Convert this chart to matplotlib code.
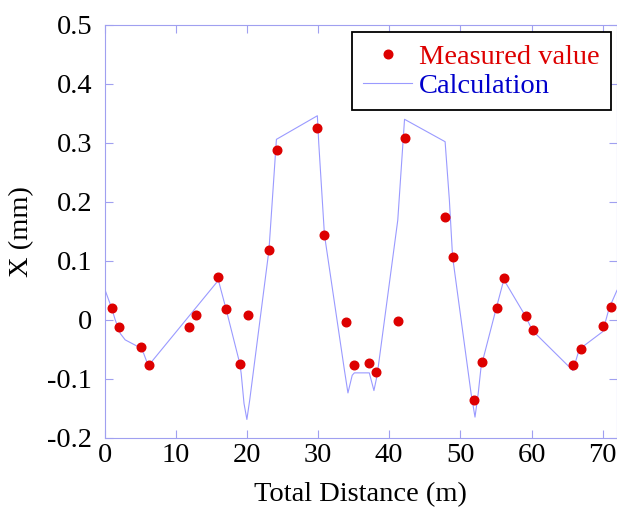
import numpy as np
from matplotlib import pyplot as plt

plt.rcParams['font.family'] = ['Liberation Serif', 'DejaVu Serif']
plt.rcParams['font.size'] = 20.5
plt.rcParams['axes.unicode_minus'] = False

# measured points
meas_x = [1.0, 2.1, 5.1, 6.2, 11.8, 12.9, 15.9, 17.0, 19.0, 20.1, 23.1, 24.2,
          29.8, 30.9, 33.9, 35.0, 37.1, 38.2, 41.2, 42.2, 47.8, 49.0, 51.9,
          53.0, 55.1, 56.1, 59.2, 60.2, 65.8, 67.0, 70.0, 71.1]
meas_y = [0.020, -0.012, -0.046, -0.076, -0.012, 0.008, 0.072, 0.018, -0.075,
          0.008, 0.118, 0.288, 0.325, 0.144, -0.004, -0.076, -0.073, -0.088,
          -0.002, 0.308, 0.174, 0.107, -0.136, -0.072, 0.020, 0.071, 0.006,
          -0.017, -0.077, -0.050, -0.011, 0.021]

# calculated curve
calc_x = [0.0, 1.0, 1.5, 2.2, 2.9, 5.1, 5.5, 6.15, 16.0, 17.1, 19.0, 19.2,
          19.6, 20.0, 20.4, 23.1, 23.8, 24.15, 29.9, 30.1, 30.9, 33.7, 34.2,
          34.8, 35.1, 37.2, 37.85, 38.3, 41.2, 42.15, 47.85, 48.45, 48.9,
          51.5, 52.05, 52.5, 52.9, 55.0, 56.1, 59.2, 60.1, 65.8, 66.7, 70.0,
          70.9, 71.6, 72.0]
calc_y = [0.053, 0.020, 0.000, -0.023, -0.034, -0.048, -0.057, -0.078, 0.067,
          0.017, -0.074, -0.091, -0.142, -0.169, -0.136, 0.118, 0.243, 0.306,
          0.346, 0.299, 0.144, -0.085, -0.124, -0.094, -0.090, -0.090, -0.120,
          -0.094, 0.169, 0.340, 0.302, 0.203, 0.107, -0.125, -0.165, -0.125,
          -0.080, 0.018, 0.068, 0.005, -0.018, -0.086, -0.050, -0.020, 0.020,
          0.039, 0.050]

xticks = [0, 10, 20, 30, 40, 50, 60, 70]
yticks = [-0.2, -0.1, 0, 0.1, 0.2, 0.3, 0.4, 0.5]
ytick_labels = ['-0.2', '-0.1', '0', '0.1', '0.2', '0.3', '0.4', '0.5']

axis_col = '#a0a0f0'

fig = plt.figure(figsize=(6.17, 5.09), dpi=100)
ax = fig.add_axes([0.1694, 0.140, 0.8306, 0.811])

ax.plot(meas_x, meas_y, 'o', color='#dd0000', markersize=6.2, label='Measured value', zorder=3)
ax.plot(calc_x, calc_y, '-', color='#9a9aff', lw=0.8, label='Calculation', zorder=2)

ax.set_xlim(0, 72)
ax.set_ylim(-0.2, 0.5)
ax.set_xticks(xticks)
ax.set_yticks(yticks)
ax.set_yticklabels(ytick_labels)
ax.tick_params(direction='in', length=6, width=0.8, color=axis_col,
               top=True, right=True)
ax.tick_params(axis='x', pad=4)
ax.tick_params(axis='y', pad=9)
for s in ax.spines.values():
    s.set_color(axis_col)
    s.set_linewidth(0.8)

ax.set_xlabel('Total Distance (m)', labelpad=10)
ax.set_ylabel('X (mm)', labelpad=9)

leg = ax.legend(loc='upper right', bbox_to_anchor=(0.988, 0.982), borderaxespad=0,
                fancybox=False, framealpha=1, edgecolor='black', handlelength=1.7,
                handletextpad=0.25, labelspacing=0.12, borderpad=0.4, numpoints=1)
leg.get_frame().set_linewidth(1.3)
leg.get_texts()[0].set_color('#dd0000')
leg.get_texts()[1].set_color('#0000cc')

fig.savefig('out.png', dpi=100)
